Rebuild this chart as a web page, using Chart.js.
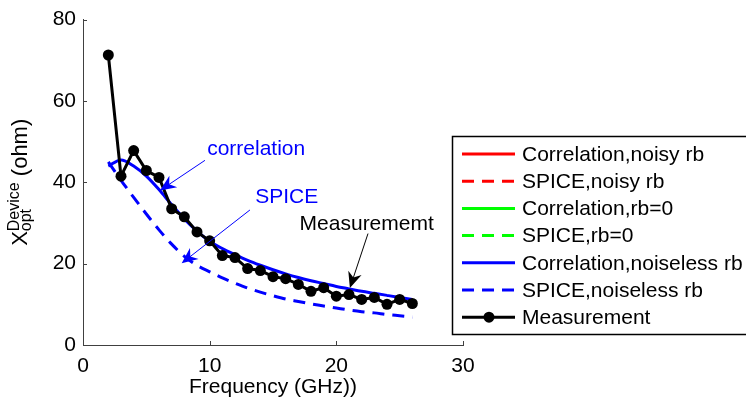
<!DOCTYPE html>
<html>
<head>
<meta charset="utf-8">
<script src="https://cdn.jsdelivr.net/npm/chart.js@4.4.0/dist/chart.umd.min.js"></script>
<style>
  html, body { margin: 0; padding: 0; background: #fff; }
  #wrap { width: 746px; height: 402px; }
</style>
</head>
<body>
<div id="wrap"><canvas id="xoptChart" width="746" height="402"></canvas></div>
<script>
// frequency points (GHz)
var freq = [2, 3, 4, 5, 6, 7, 8, 9, 10, 11, 12, 13, 14, 15, 16, 17, 18, 19, 20, 21, 22, 23, 24, 25, 26];

// X_opt (ohm)
var measured       = [71.3, 41.5, 47.8, 42.9, 41.2, 33.5, 31.5, 27.8, 25.6, 22.0, 21.5, 18.8, 18.3, 16.8, 16.3, 14.9, 13.2, 14.1, 12.0, 12.4, 11.2, 11.7, 10.0, 11.2, 10.2];
var corrNoiseless  = [44.0, 45.5, 44.0, 41.5, 38.2, 34.5, 31.0, 28.0, 25.5, 23.7, 22.2, 20.8, 19.6, 18.5, 17.5, 16.6, 15.8, 15.1, 14.4, 13.8, 13.2, 12.7, 12.2, 11.7, 11.2];
var spiceNoiseless = [45.0, 40.5, 36.3, 32.2, 28.3, 24.8, 21.8, 19.6, 18.0, 16.5, 15.2, 14.0, 13.0, 12.1, 11.3, 10.7, 10.1, 9.6, 9.1, 8.6, 8.2, 7.9, 7.5, 7.2, 6.9];
// these only show up in the legend (hidden under the blue curves)
var corrNoisy  = [];
var spiceNoisy = [];
var corrRb0    = [];
var spiceRb0   = [];

var xTicks = [0, 10, 20, 30];
var yTicks = [0, 20, 40, 60, 80];

var FONT = "'Liberation Sans', Arial, Helvetica, sans-serif";

function pts(ys) {
    return ys.map(function(y, i) { return {x: freq[i], y: y}; });
}

// text callouts, in data units
var notes = [
    {text: 'correlation', color: '#0000ff', at: [9.8, 48.1], from: [9.63, 45.4], to: [6.08, 38.0]},
    {text: 'SPICE',       color: '#0000ff', at: [13.6, 36.3], from: [13.18, 33.2], to: [7.79, 20.1]},
    {text: 'Measurememt', color: '#000000', at: [17.1, 29.8], from: [22.5, 27.4], to: [21.07, 14.0]}
];

function arrow(ctx, x0, y0, x1, y1, color) {
    var a = Math.atan2(y1 - y0, x1 - x0);
    ctx.save();
    ctx.strokeStyle = color;
    ctx.fillStyle = color;
    ctx.lineWidth = 1;
    ctx.beginPath();
    ctx.moveTo(x0, y0);
    ctx.lineTo(x1 - 8 * Math.cos(a), y1 - 8 * Math.sin(a));
    ctx.stroke();
    ctx.translate(x1, y1);
    ctx.rotate(a);
    ctx.beginPath();
    ctx.moveTo(0, 0);
    ctx.lineTo(-16, -7);
    ctx.lineTo(-11, 0);
    ctx.lineTo(-16, 7);
    ctx.closePath();
    ctx.fill();
    ctx.restore();
}

var matlabLook = {
    id: 'matlabLook',
    afterDraw: function(chart) {
        var ctx = chart.ctx;
        var xs = chart.scales.x, ys = chart.scales.y;
        var area = chart.chartArea;

        // inward tick marks
        ctx.save();
        ctx.strokeStyle = '#404040';
        ctx.lineWidth = 1;
        ctx.beginPath();
        xTicks.forEach(function(v) {
            var px = Math.round(xs.getPixelForValue(v)) + 0.5;
            ctx.moveTo(px, area.bottom);
            ctx.lineTo(px, area.bottom - 4);
        });
        yTicks.forEach(function(v) {
            var py = Math.round(ys.getPixelForValue(v)) + 0.5;
            ctx.moveTo(area.left, py);
            ctx.lineTo(area.left + 4, py);
        });
        ctx.stroke();
        ctx.restore();

        // y title: X_opt^Device (ohm)
        ctx.save();
        ctx.fillStyle = '#000';
        ctx.textBaseline = 'alphabetic';
        var big = '22px ' + FONT, small = '16px ' + FONT;
        ctx.font = big;
        var wX = ctx.measureText('X').width;
        var wRest = ctx.measureText(' (ohm)').width;
        ctx.font = small;
        var wSup = Math.max(ctx.measureText('Device').width, ctx.measureText('opt').width);
        var total = wX + wSup + wRest;
        ctx.translate(27, (area.top + area.bottom) / 2);
        ctx.rotate(-Math.PI / 2);
        var sx = -total / 2;
        ctx.font = big;
        ctx.fillText('X', sx, 0);
        ctx.font = small;
        ctx.fillText('Device', sx + wX, -8);
        ctx.fillText('opt', sx + wX, 4);
        ctx.font = big;
        ctx.fillText(' (ohm)', sx + wX + wSup, 0);
        ctx.restore();

        // callouts
        notes.forEach(function(n) {
            ctx.save();
            ctx.font = '21px ' + FONT;
            ctx.fillStyle = n.color;
            ctx.textBaseline = 'middle';
            ctx.fillText(n.text, xs.getPixelForValue(n.at[0]), ys.getPixelForValue(n.at[1]));
            ctx.restore();
            arrow(ctx, xs.getPixelForValue(n.from[0]), ys.getPixelForValue(n.from[1]),
                  xs.getPixelForValue(n.to[0]), ys.getPixelForValue(n.to[1]), n.color);
        });

        // legend box, drawn by hand to sit where matlab put it
        var lx = 452, ly = 136, rowH = 27.2;
        ctx.save();
        ctx.fillStyle = '#fff';
        ctx.fillRect(lx, ly, 320, 198);
        ctx.strokeStyle = '#000';
        ctx.lineWidth = 1.5;
        ctx.strokeRect(lx + 0.5, ly + 0.5, 320, 198);
        chart.data.datasets.forEach(function(ds, i) {
            var y = ly + 18 + i * rowH;
            ctx.strokeStyle = ds.borderColor;
            ctx.lineWidth = 3;
            ctx.setLineDash(ds.borderDash || []);
            ctx.beginPath();
            ctx.moveTo(lx + 10, y);
            ctx.lineTo(lx + 63, y);
            ctx.stroke();
            ctx.setLineDash([]);
            if (ds.pointRadius > 0) {
                ctx.fillStyle = ds.borderColor;
                ctx.beginPath();
                ctx.arc(lx + 37, y, ds.pointRadius, 0, Math.PI * 2);
                ctx.fill();
            }
            ctx.fillStyle = '#000';
            ctx.font = '21px ' + FONT;
            ctx.textBaseline = 'middle';
            ctx.fillText(ds.label, lx + 70, y + 1);
        });
        ctx.restore();
    }
};

var ctx = document.getElementById('xoptChart').getContext('2d');
var xoptChart = new Chart(ctx, {
    type: 'line',
    data: {
        datasets: [
            {label: 'Correlation,noisy rb', data: pts(corrNoisy), borderColor: '#ff0000', borderWidth: 3, pointRadius: 0, order: 6},
            {label: 'SPICE,noisy rb', data: pts(spiceNoisy), borderColor: '#ff0000', borderDash: [12, 8], borderWidth: 3, pointRadius: 0, order: 5},
            {label: 'Correlation,rb=0', data: pts(corrRb0), borderColor: '#00ff00', borderWidth: 3, pointRadius: 0, order: 4},
            {label: 'SPICE,rb=0', data: pts(spiceRb0), borderColor: '#00ff00', borderDash: [12, 8], borderWidth: 3, pointRadius: 0, order: 3},
            {label: 'Correlation,noiseless rb', data: pts(corrNoiseless), borderColor: '#0000ff', borderWidth: 3, pointRadius: 0, cubicInterpolationMode: 'monotone', order: 2},
            {label: 'SPICE,noiseless rb', data: pts(spiceNoiseless), borderColor: '#0000ff', borderDash: [12, 8], borderWidth: 3, pointRadius: 0, cubicInterpolationMode: 'monotone', order: 1},
            {label: 'Measurement', data: pts(measured), borderColor: '#000000', backgroundColor: '#000000', borderWidth: 3, pointRadius: 5.5, pointBorderWidth: 0, tension: 0, order: 0}
        ]
    },
    options: {
        responsive: false,
        animation: false,
        devicePixelRatio: 1,
        layout: { padding: {left: 0, right: 283, top: 15, bottom: 0} },
        plugins: {
            legend: { display: false },
            tooltip: { enabled: false }
        },
        scales: {
            x: {
                type: 'linear',
                min: 0, max: 30,
                afterFit: function(s) { s.height = 57; },
                afterBuildTicks: function(s) { s.ticks = xTicks.map(function(v) { return {value: v}; }); },
                grid: { display: false, drawTicks: false },
                border: { display: true, color: '#404040', width: 1 },
                ticks: { color: '#000', padding: 9, maxRotation: 0, font: {family: FONT, size: 21} },
                title: { display: true, text: 'Frequency (GHz))', color: '#000', padding: {top: 0, bottom: 2}, font: {family: FONT, size: 21} }
            },
            y: {
                min: 0, max: 80,
                afterFit: function(s) { s.width = 83; },
                afterBuildTicks: function(s) { s.ticks = yTicks.map(function(v) { return {value: v}; }); },
                grid: { display: false, drawTicks: false },
                border: { display: true, color: '#404040', width: 1 },
                ticks: { color: '#000', padding: 7, font: {family: FONT, size: 21} }
            }
        }
    },
    plugins: [matlabLook]
});
</script>
</body>
</html>
